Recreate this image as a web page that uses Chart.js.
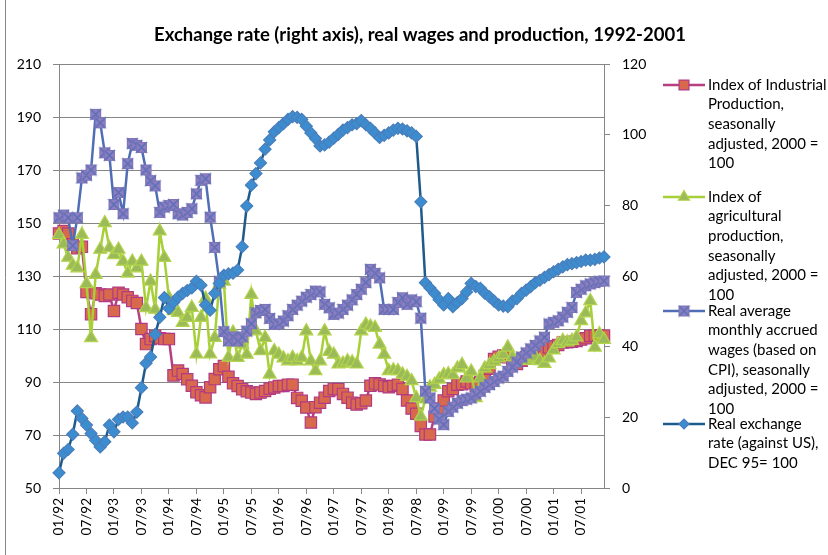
<!DOCTYPE html>
<html>
<head>
<meta charset="utf-8">
<script src="https://cdn.jsdelivr.net/npm/chart.js@4.4.0/dist/chart.umd.min.js"></script>
<style>
  html, body { margin: 0; padding: 0; background: #fff; }
  #wrap { position: relative; width: 828px; height: 555px; }
</style>
</head>
<body>
<div id="wrap"><canvas id="chart" width="828" height="555"></canvas></div>
<script>
const months = [
  "01/92","02/92","03/92","04/92","05/92","06/92","07/92","08/92","09/92","10/92","11/92","12/92",
  "01/93","02/93","03/93","04/93","05/93","06/93","07/93","08/93","09/93","10/93","11/93","12/93",
  "01/94","02/94","03/94","04/94","05/94","06/94","07/94","08/94","09/94","10/94","11/94","12/94",
  "01/95","02/95","03/95","04/95","05/95","06/95","07/95","08/95","09/95","10/95","11/95","12/95",
  "01/96","02/96","03/96","04/96","05/96","06/96","07/96","08/96","09/96","10/96","11/96","12/96",
  "01/97","02/97","03/97","04/97","05/97","06/97","07/97","08/97","09/97","10/97","11/97","12/97",
  "01/98","02/98","03/98","04/98","05/98","06/98","07/98","08/98","09/98","10/98","11/98","12/98",
  "01/99","02/99","03/99","04/99","05/99","06/99","07/99","08/99","09/99","10/99","11/99","12/99",
  "01/00","02/00","03/00","04/00","05/00","06/00","07/00","08/00","09/00","10/00","11/00","12/00",
  "01/01","02/01","03/01","04/01","05/01","06/01","07/01","08/01","09/01","10/01","11/01","12/01"
];

// Index of Industrial Production (left axis)
const industrial = [
  146, 147, 146, 142, 140.5, 141, 124, 115.6, 123.5, 123, 122.5, 123,
  116.8, 123.7, 123, 122, 120.6, 119.8, 110, 104.3, 106.2, 107.4, 106.5, 106.2,
  106.2, 92.5, 94.3, 93, 91, 88.6, 86.1, 85, 84.2, 88, 91.1, 94.8,
  96, 92, 89.5, 88.5, 87.3, 86.5, 86, 85.5, 86, 86.6, 87.5, 87.9,
  88.5, 88.5, 89, 89, 84, 82.9, 80.4, 74.7, 80.5, 82.2, 84.1, 86.6,
  87.4, 87.3, 85.5, 84.1, 82.2, 81.5, 82, 83, 88.6, 89.5, 89.1, 88.5,
  88, 88.5, 89, 87.4, 83, 80, 78, 73.4, 70.2, 70.2, 77, 80,
  83, 86.5, 87.4, 89, 89.2, 90.2, 89.5, 88.6, 90, 92.4, 95, 98.7,
  99.5, 100, 99.3, 97.5, 96.8, 98, 99.3, 99.5, 99.9, 100.5, 101.5, 103,
  103.5, 104, 104.9, 105, 105.2, 105.5, 106, 106.5, 107.4, 107.5, 107.4, 107.5
];

// Index of agricultural production (left axis)
const agricultural = [
  145.5, 142, 137, 134, 133, 145.6, 127, 106.6, 130.5, 140, 150, 140.6,
  138, 140, 135.5, 131, 135.5, 133, 135.5, 118, 128, 117.4, 146.9, 136.9,
  121.8, 116.8, 116.2, 112.4, 114.3, 118.1, 100.5, 114.3, 121.5, 100.5, 106.7, 126.8,
  128, 99.3, 108.7, 99.2, 104.2, 100.4, 123, 109.2, 101.7, 106.7, 92.9, 101.7,
  100.4, 99, 97.9, 99.2, 97.9, 99.2, 109.2, 97.9, 94.2, 97.9, 109.2, 101.5,
  100.4, 96.7, 97, 97.9, 97.5, 96.7, 109.2, 111.7, 111, 110.5, 104.2, 100.4,
  94.2, 94.5, 94.2, 92.9, 92, 90.4, 84, 77, 83.5, 88, 89, 91,
  92.7, 93, 92.7, 95.2, 96.5, 91.5, 94, 84, 91.5, 95.2, 96.5, 97.8,
  99, 100.3, 103.1, 99.4, 98.5, 98.3, 98.1, 98.8, 99.4, 98, 96.9, 99,
  102, 104.4, 105.6, 105, 105.6, 106.9, 113.1, 116, 120.6, 103.1, 108.1, 106
];

// Real average monthly accrued wages (left axis)
const wages = [
  152, 153, 152, 141.5, 152, 167, 168, 170, 191, 187.8, 176.5, 175.5,
  157, 161.5, 153.5, 172.4, 180, 179.3, 178.5, 170, 166, 164, 154, 156,
  156.6, 157, 153.5, 153, 154, 155.4, 161, 166.1, 166.7, 152.2, 140.8, 128,
  109, 105.5, 107, 105.5, 107, 109.2, 112, 116.1, 117, 117.4, 114, 111.7,
  112, 113, 115, 117.4, 119, 120.5, 122, 123, 124.3, 124, 119.3, 118,
  115.5, 116, 117.4, 119, 121, 123, 125, 127.5, 132.5, 131, 129.3, 117.4,
  117.4, 117.4, 120, 121.8, 119.3, 121, 120.3, 114.1, 86.5, 84, 80, 76,
  73.9, 78.9, 80.5, 82, 83, 83.5, 84, 85.5, 86.5, 88, 89, 90.2,
  91.5, 92.2, 94, 95.6, 97.5, 99.4, 101, 102.5, 103.8, 105.5, 106.9, 111.9,
  112.5, 113.1, 114.5, 116.3, 118.1, 123.8, 125, 126.3, 127, 127.5, 128, 128.1
];

// Real exchange rate against US$, Dec 95 = 100 (right axis)
const exchangeRate = [
  4.3, 9.8, 10.9, 15.2, 21.8, 19.7, 17.8, 15.4, 13.5, 11.6, 13.1, 17.8,
  15.9, 19.4, 20.1, 20.1, 18.4, 21.5, 28.4, 35.3, 37.1, 43.5, 48.3, 53.9,
  50.8, 52.5, 54, 55.1, 55.9, 56.6, 58.5, 57.4, 51.8, 50.3, 55.1, 57.9,
  60.2, 60.6, 60.8, 61.7, 68.3, 79.8, 85.7, 89, 92, 95.9, 98.5, 100.8,
  102, 103.1, 104.3, 105.1, 104.9, 104.3, 102.4, 100.5, 98.9, 96.8, 97.1, 97.9,
  99, 100.1, 101.3, 102, 102.8, 103.1, 104, 102.8, 101.8, 100.5, 99.2, 99.8,
  100.5, 101.3, 101.8, 101.6, 101.1, 100.5, 99.5, 81, 58.1, 56.6, 55.1, 53.3,
  51.8, 53.6, 51.3, 52.5, 53.6, 55.5, 57.9, 57, 56.5, 55.1, 54.1, 52.9,
  51.8, 51.5, 51.3, 52.9, 53.6, 55.1, 56, 57, 58.1, 58.8, 59.6, 60.4,
  61.2, 61.9, 62.6, 63.2, 63.5, 63.8, 64.1, 64.5, 64.5, 64.7, 65.1, 65.4
];

const titleText = "Exchange rate (right axis), real wages and production, 1992-2001";
const legendLines = [
  ["Index of Industrial", "Production,", "seasonally", "adjusted, 2000 =", "100"],
  ["Index of", "agricultural", "production,", "seasonally", "adjusted, 2000 =", "100"],
  ["Real average", "monthly accrued", "wages (based on", "CPI), seasonally", "adjusted, 2000 =", "100"],
  ["Real exchange", "rate (against US),", "DEC 95= 100"]
];

const FONT = "Lato";
const GRID = "#868686";

// "X" marker with a lavender fill, like the spreadsheet one
const makeCross = (size) => {
  const c = document.createElement("canvas");
  c.width = size;
  c.height = size;
  const g = c.getContext("2d");
  const m = 1;
  g.fillStyle = "#8f7fc2";
  g.fillRect(m, m, size - 2 * m, size - 2 * m);
  g.strokeStyle = "#5a6fb6";
  g.lineWidth = 1.6;
  g.beginPath();
  g.moveTo(m, m);
  g.lineTo(size - m, size - m);
  g.moveTo(size - m, m);
  g.lineTo(m, size - m);
  g.stroke();
  g.strokeStyle = "#7b74b8";
  g.lineWidth = 1;
  g.strokeRect(m + 0.5, m + 0.5, size - 2 * m - 1, size - 2 * m - 1);
  return c;
};
const crossMarker = makeCross(13);

const series = [
  { label: "industrial", data: industrial, axis: "y", line: "#b53f80", fill: "#d9694c", edge: "#b23a84", style: "rect", radius: 8, order: 4 },
  { label: "agricultural", data: agricultural, axis: "y", line: "#a6cf38", fill: "#9bbb59", edge: "#b3d44a", style: "triangle", radius: 7.5, order: 3 },
  { label: "wages", data: wages, axis: "y", line: "#4f6eb5", fill: "#8f7fc2", edge: "#5a6fb6", style: crossMarker, radius: 6.5, order: 2 },
  { label: "exchange", data: exchangeRate, axis: "y2", line: "#1d5b8c", fill: "#3c8dd0", edge: "#4a7ebb", style: "rectRot", radius: 6, order: 1 }
];

const decorPlugin = {
  id: "decor",
  afterDraw(chart) {
    const ctx = chart.ctx;
    ctx.save();
    // outer frame edge on the left
    ctx.strokeStyle = GRID;
    ctx.lineWidth = 1;
    ctx.beginPath();
    ctx.moveTo(5.5, 0);
    ctx.lineTo(5.5, 555);
    ctx.stroke();

    // title
    ctx.fillStyle = "#000";
    ctx.font = "bold 18.5px " + FONT;
    ctx.textAlign = "center";
    ctx.textBaseline = "middle";
    ctx.fillText(titleText, 420, 35);

    // legend with wrapped text
    const tops = [85, 197, 311, 424];
    const lineH = 19.6;
    ctx.font = "15px " + FONT;
    ctx.textAlign = "left";
    series.forEach((s, k) => {
      const y = tops[k];
      ctx.strokeStyle = s.line;
      ctx.lineWidth = 2.5;
      ctx.beginPath();
      ctx.moveTo(663, y);
      ctx.lineTo(705, y);
      ctx.stroke();
      ctx.fillStyle = s.fill;
      ctx.strokeStyle = s.edge;
      ctx.lineWidth = 1.2;
      Chart.helpers.drawPoint(ctx, { pointStyle: s.style, radius: s.radius - 1, borderWidth: 1.2, rotation: 0 }, 684, y);
      ctx.fillStyle = "#000";
      legendLines[k].forEach((t, j) => ctx.fillText(t, 708, y + j * lineH));
    });
    ctx.restore();
  }
};

new Chart(document.getElementById("chart"), {
  type: "line",
  data: {
    labels: months,
    datasets: series.map((s) => ({
      label: s.label,
      data: s.data,
      yAxisID: s.axis,
      order: s.order,
      borderColor: s.line,
      borderWidth: 2.5,
      tension: 0,
      pointStyle: s.style,
      pointRadius: s.radius,
      pointBackgroundColor: s.fill,
      pointBorderColor: s.edge,
      pointBorderWidth: 1.2,
      clip: false
    }))
  },
  options: {
    responsive: false,
    animation: false,
    devicePixelRatio: 1,
    layout: { padding: { top: 64, left: 0, right: 174, bottom: 0 } },
    plugins: {
      legend: { display: false },
      title: { display: false },
      tooltip: { enabled: false }
    },
    scales: {
      x: {
        type: "category",
        offset: false,
        grid: {
          drawOnChartArea: false,
          tickLength: 6,
          color: (c) => (c.index % 6 === 0 ? GRID : "rgba(0,0,0,0)")
        },
        border: { color: GRID },
        ticks: {
          autoSkip: false,
          minRotation: 90,
          maxRotation: 90,
          padding: 4,
          color: "#000",
          font: { family: FONT, size: 13.5 },
          callback: (v, i) => (i % 6 === 0 ? months[i] : "")
        },
        afterFit: (s) => { s.height = 67; }
      },
      y: {
        position: "left",
        min: 50,
        max: 210,
        grid: { color: GRID, tickLength: 6 },
        border: { color: GRID },
        ticks: { stepSize: 20, padding: 12, color: "#000", font: { family: FONT, size: 14 } },
        afterFit: (s) => { s.width = 59; }
      },
      y2: {
        position: "right",
        min: 0,
        max: 120,
        grid: { drawOnChartArea: false, color: GRID, tickLength: 6 },
        border: { color: GRID },
        ticks: { stepSize: 20, padding: 12, color: "#000", font: { family: FONT, size: 14 } },
        afterFit: (s) => { s.width = 50; }
      }
    }
  },
  plugins: [decorPlugin]
});
</script>
</body>
</html>
